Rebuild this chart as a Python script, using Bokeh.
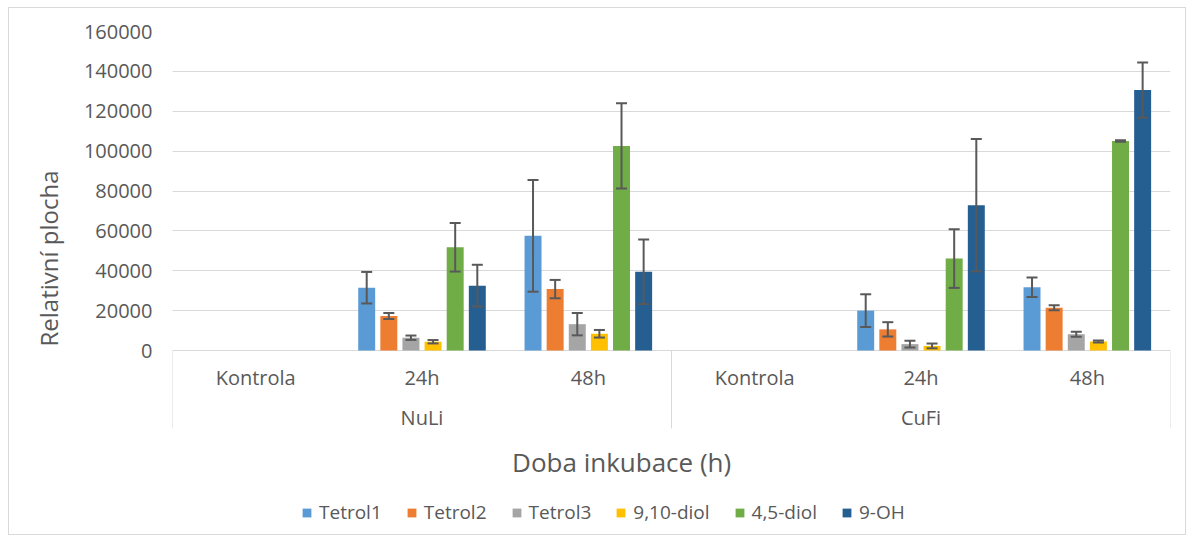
from bokeh.plotting import figure
from bokeh.models import (ColumnDataSource, FactorRange, Whisker, TeeHead, Legend,
                          LegendItem, NumeralTickFormatter, FixedTicker, Title)
from bokeh.core.properties import value
from bokeh.transform import dodge
from bokeh.embed import file_html
from bokeh.resources import INLINE

groups = ["NuLi", "CuFi"]
times = ["Kontrola", "24h", "48h"]
series = ["Tetrol1", "Tetrol2", "Tetrol3", "9,10-diol", "4,5-diol", "9-OH"]
colors = ["#5B9BD5", "#ED7D31", "#A5A5A5", "#FFC000", "#70AD47", "#255E91"]

# order: NuLi Kontrola, NuLi 24h, NuLi 48h, CuFi Kontrola, CuFi 24h, CuFi 48h
tetrol1 = [0, 31500, 57500, 0, 20000, 31700]
tetrol1_err = [0, 7900, 28000, 0, 8200, 4900]
tetrol2 = [0, 17300, 30800, 0, 10600, 21400]
tetrol2_err = [0, 1500, 4600, 0, 3600, 1250]
tetrol3 = [0, 6400, 13200, 0, 3200, 8200]
tetrol3_err = [0, 1100, 5600, 0, 1700, 1250]
diol910 = [0, 4400, 8400, 0, 2300, 4500]
diol910_err = [0, 850, 1900, 0, 1200, 500]
diol45 = [0, 51800, 102600, 0, 46100, 105100]
diol45_err = [0, 12200, 21400, 0, 14700, 400]
oh9 = [0, 32500, 39500, 0, 72900, 130600]
oh9_err = [0, 10500, 16200, 0, 33200, 13800]

y_ticks = [0, 20000, 40000, 60000, 80000, 100000, 120000, 140000, 160000]
x_title = "Doba inkubace (h)"
y_title = "Relativní plocha"

values = [tetrol1, tetrol2, tetrol3, diol910, diol45, oh9]
errors = [tetrol1_err, tetrol2_err, tetrol3_err, diol910_err, diol45_err, oh9_err]

factors = [(g, t) for g in groups for t in times]

FONT = "Open Sans"
TXT = "#595959"
GRID = "#D9D9D9"
ERR = "#595959"

# layout: plot area 319 px tall for 0..160000, extra space below for the category area
Y_MAX = y_ticks[-1]
PLOT_H = 319
BELOW_H = 184
PX = Y_MAX / PLOT_H


def below(px):
    return -px * PX


p = figure(x_range=FactorRange(*factors, range_padding=0, group_padding=0, factor_padding=0),
           y_range=(below(BELOW_H), Y_MAX), frame_width=998, frame_height=PLOT_H + BELOW_H,
           output_backend="svg", toolbar_location=None,
           min_border_left=163, min_border_right=15, min_border_top=23,
           min_border_bottom=0)
p.styles = {"border": "1px solid #D9D9D9", "margin-left": "8px", "margin-top": "7px"}
p.outline_line_color = None
p.background_fill_color = "white"
p.border_fill_color = "white"

pitch = 0.133
width = 0.102
items = []
for i, (name, vals, errs, col) in enumerate(zip(series, values, errors, colors)):
    off = (i - 2.5) * pitch
    src = ColumnDataSource(dict(x=factors, top=vals))
    r = p.vbar(x=dodge("x", off, range=p.x_range), top="top", width=width, source=src,
               fill_color=col, line_color=None)
    items.append(LegendItem(label=name, renderers=[r]))
    wx = [f for f, v in zip(factors, vals) if v > 0]
    up = [v + e for v, e in zip(vals, errs) if v > 0]
    lo = [v - e for v, e in zip(vals, errs) if v > 0]
    wsrc = ColumnDataSource(dict(x=wx, upper=up, lower=lo))
    w = Whisker(source=wsrc, base=dodge("x", off, range=p.x_range), upper="upper", lower="lower",
                line_color=ERR, line_width=2, level="annotation",
                upper_head=TeeHead(size=11, line_color=ERR, line_width=2),
                lower_head=TeeHead(size=11, line_color=ERR, line_width=2))
    p.add_layout(w)

# category axis area (Excel style multi-level axis)
sep_l = ColumnDataSource(dict(x=[(g, times[0]) for g in groups],
                              y0=[0] * len(groups), y1=[below(78)] * len(groups)))
sep_r = ColumnDataSource(dict(x=[(groups[-1], times[-1])], y0=[0], y1=[below(78)]))
p.segment(x0=dodge("x", -0.5, range=p.x_range), x1=dodge("x", -0.5, range=p.x_range),
          y0="y0", y1="y1", source=sep_l, line_color=GRID, line_width=1)
p.segment(x0=dodge("x", 0.5, range=p.x_range), x1=dodge("x", 0.5, range=p.x_range),
          y0="y0", y1="y1", source=sep_r, line_color=GRID, line_width=1)

p.text(x=factors, y=[below(27)] * len(factors), text=[t for g, t in factors],
       text_font=value(FONT), text_font_size="20px", text_color=TXT,
       text_align="center", text_baseline="middle")
p.text(x=[(g, times[1]) for g in groups], y=[below(67)] * len(groups), text=groups,
       text_font=value(FONT), text_font_size="20px", text_color=TXT,
       text_align="center", text_baseline="middle")
p.text(x=[2.7], y=[below(111)], text=[x_title],
       text_font=value(FONT), text_font_size="26px", text_color=TXT,
       text_align="center", text_baseline="middle")

p.xaxis.visible = False
p.xgrid.grid_line_color = None
p.ygrid.grid_line_color = GRID
p.ygrid.grid_line_width = 1

p.yaxis.ticker = FixedTicker(ticks=y_ticks)
p.yaxis.formatter = NumeralTickFormatter(format="0")
p.yaxis.axis_line_color = None
p.yaxis.major_tick_line_color = None
p.yaxis.minor_tick_line_color = None
p.yaxis.major_tick_out = 0
p.yaxis.major_label_text_font = FONT
p.yaxis.major_label_text_font_size = "20px"
p.yaxis.major_label_text_color = TXT
p.yaxis.major_label_standoff = 20

p.add_layout(Title(text=y_title, align="left", offset=BELOW_H + 4, standoff=32,
                   text_font=FONT, text_font_size="24px", text_font_style="normal",
                   text_color=TXT), "left")

legend = Legend(items=items, orientation="horizontal", location=(129, 9),
                label_text_font=FONT, label_text_font_size="19px", label_text_color=TXT,
                glyph_width=11, glyph_height=11, label_standoff=7, spacing=24,
                border_line_color=None, background_fill_alpha=0, padding=0, margin=0)
p.add_layout(legend)

open("out.html", "w").write(file_html(p, INLINE))
